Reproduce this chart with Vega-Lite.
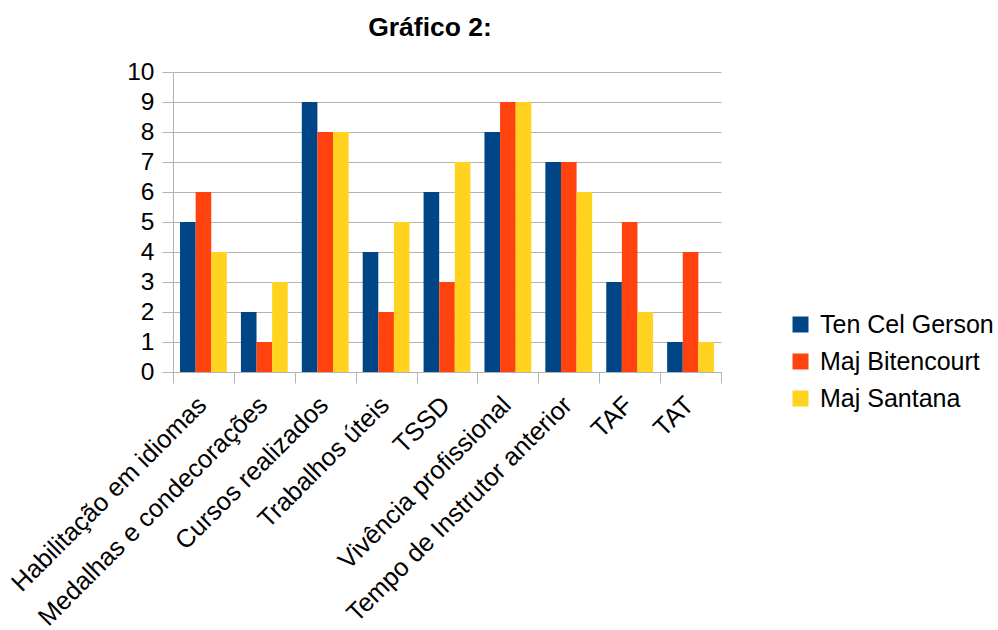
{
  "$schema": "https://vega.github.io/schema/vega-lite/v6.json",
  "autosize": {"type": "none"},
  "padding": {"left": 173, "top": 72, "right": 277, "bottom": 258},
  "width": 548,
  "height": 300,
  "background": "white",
  "title": {
    "text": "Gráfico 2:",
    "font": "Liberation Sans",
    "fontSize": 26.5,
    "fontWeight": "bold",
    "color": "black",
    "anchor": "middle",
    "frame": "group",
    "dx": -17,
    "baseline": "alphabetic",
    "offset": -3
  },
  "data": {
    "values": [
      {"criterio": "Habilitação em idiomas", "avaliador": "Ten Cel Gerson", "nota": 5},
      {"criterio": "Habilitação em idiomas", "avaliador": "Maj Bitencourt", "nota": 6},
      {"criterio": "Habilitação em idiomas", "avaliador": "Maj Santana", "nota": 4},
      {"criterio": "Medalhas e condecorações", "avaliador": "Ten Cel Gerson", "nota": 2},
      {"criterio": "Medalhas e condecorações", "avaliador": "Maj Bitencourt", "nota": 1},
      {"criterio": "Medalhas e condecorações", "avaliador": "Maj Santana", "nota": 3},
      {"criterio": "Cursos realizados", "avaliador": "Ten Cel Gerson", "nota": 9},
      {"criterio": "Cursos realizados", "avaliador": "Maj Bitencourt", "nota": 8},
      {"criterio": "Cursos realizados", "avaliador": "Maj Santana", "nota": 8},
      {"criterio": "Trabalhos úteis", "avaliador": "Ten Cel Gerson", "nota": 4},
      {"criterio": "Trabalhos úteis", "avaliador": "Maj Bitencourt", "nota": 2},
      {"criterio": "Trabalhos úteis", "avaliador": "Maj Santana", "nota": 5},
      {"criterio": "TSSD", "avaliador": "Ten Cel Gerson", "nota": 6},
      {"criterio": "TSSD", "avaliador": "Maj Bitencourt", "nota": 3},
      {"criterio": "TSSD", "avaliador": "Maj Santana", "nota": 7},
      {"criterio": "Vivência profissional", "avaliador": "Ten Cel Gerson", "nota": 8},
      {"criterio": "Vivência profissional", "avaliador": "Maj Bitencourt", "nota": 9},
      {"criterio": "Vivência profissional", "avaliador": "Maj Santana", "nota": 9},
      {"criterio": "Tempo de Instrutor anterior", "avaliador": "Ten Cel Gerson", "nota": 7},
      {"criterio": "Tempo de Instrutor anterior", "avaliador": "Maj Bitencourt", "nota": 7},
      {"criterio": "Tempo de Instrutor anterior", "avaliador": "Maj Santana", "nota": 6},
      {"criterio": "TAF", "avaliador": "Ten Cel Gerson", "nota": 3},
      {"criterio": "TAF", "avaliador": "Maj Bitencourt", "nota": 5},
      {"criterio": "TAF", "avaliador": "Maj Santana", "nota": 2},
      {"criterio": "TAT", "avaliador": "Ten Cel Gerson", "nota": 1},
      {"criterio": "TAT", "avaliador": "Maj Bitencourt", "nota": 4},
      {"criterio": "TAT", "avaliador": "Maj Santana", "nota": 1}
    ]
  },
  "mark": {"type": "bar"},
  "encoding": {
    "x": {
      "field": "criterio",
      "type": "nominal",
      "sort": null,
      "scale": {"paddingInner": 0, "paddingOuter": 0},
      "axis": {
        "title": null,
        "tickBand": "extent",
        "labelAngle": -45,
        "labelFont": "Liberation Sans",
        "labelFontSize": 25.5,
        "labelColor": "black",
        "labelPadding": 9,
        "labelOffset": -10,
        "tickSize": 11,
        "tickColor": "#b3b3b3",
        "domainColor": "#b3b3b3",
        "grid": false,
        "labelLimit": 0
      }
    },
    "xOffset": {
      "field": "avaliador",
      "type": "nominal",
      "sort": ["Ten Cel Gerson", "Maj Bitencourt", "Maj Santana"],
      "scale": {"paddingInner": 0, "paddingOuter": 0.45}
    },
    "y": {
      "field": "nota",
      "type": "quantitative",
      "scale": {"domain": [0, 10], "nice": false},
      "axis": {
        "title": null,
        "values": [0, 1, 2, 3, 4, 5, 6, 7, 8, 9, 10],
        "labelFont": "Liberation Sans",
        "labelFontSize": 24.5,
        "labelColor": "black",
        "labelPadding": 8,
        "tickSize": 11,
        "tickColor": "#b3b3b3",
        "domainColor": "#b3b3b3",
        "gridColor": "#b3b3b3",
        "gridWidth": 1
      }
    },
    "color": {
      "field": "avaliador",
      "type": "nominal",
      "sort": ["Ten Cel Gerson", "Maj Bitencourt", "Maj Santana"],
      "scale": {
        "domain": ["Ten Cel Gerson", "Maj Bitencourt", "Maj Santana"],
        "range": ["#004586", "#ff420e", "#ffd320"]
      },
      "legend": {
        "title": null,
        "orient": "none",
        "legendX": 615,
        "legendY": 240,
        "symbolType": "square",
        "symbolSize": 256,
        "symbolStrokeWidth": 0,
        "labelFont": "Liberation Sans",
        "labelFontSize": 25,
        "labelColor": "black",
        "labelOffset": 7,
        "labelLimit": 0,
        "rowPadding": 11
      }
    }
  },
  "config": {
    "view": {"stroke": null},
    "axis": {"domainWidth": 1, "tickWidth": 1}
  }
}
